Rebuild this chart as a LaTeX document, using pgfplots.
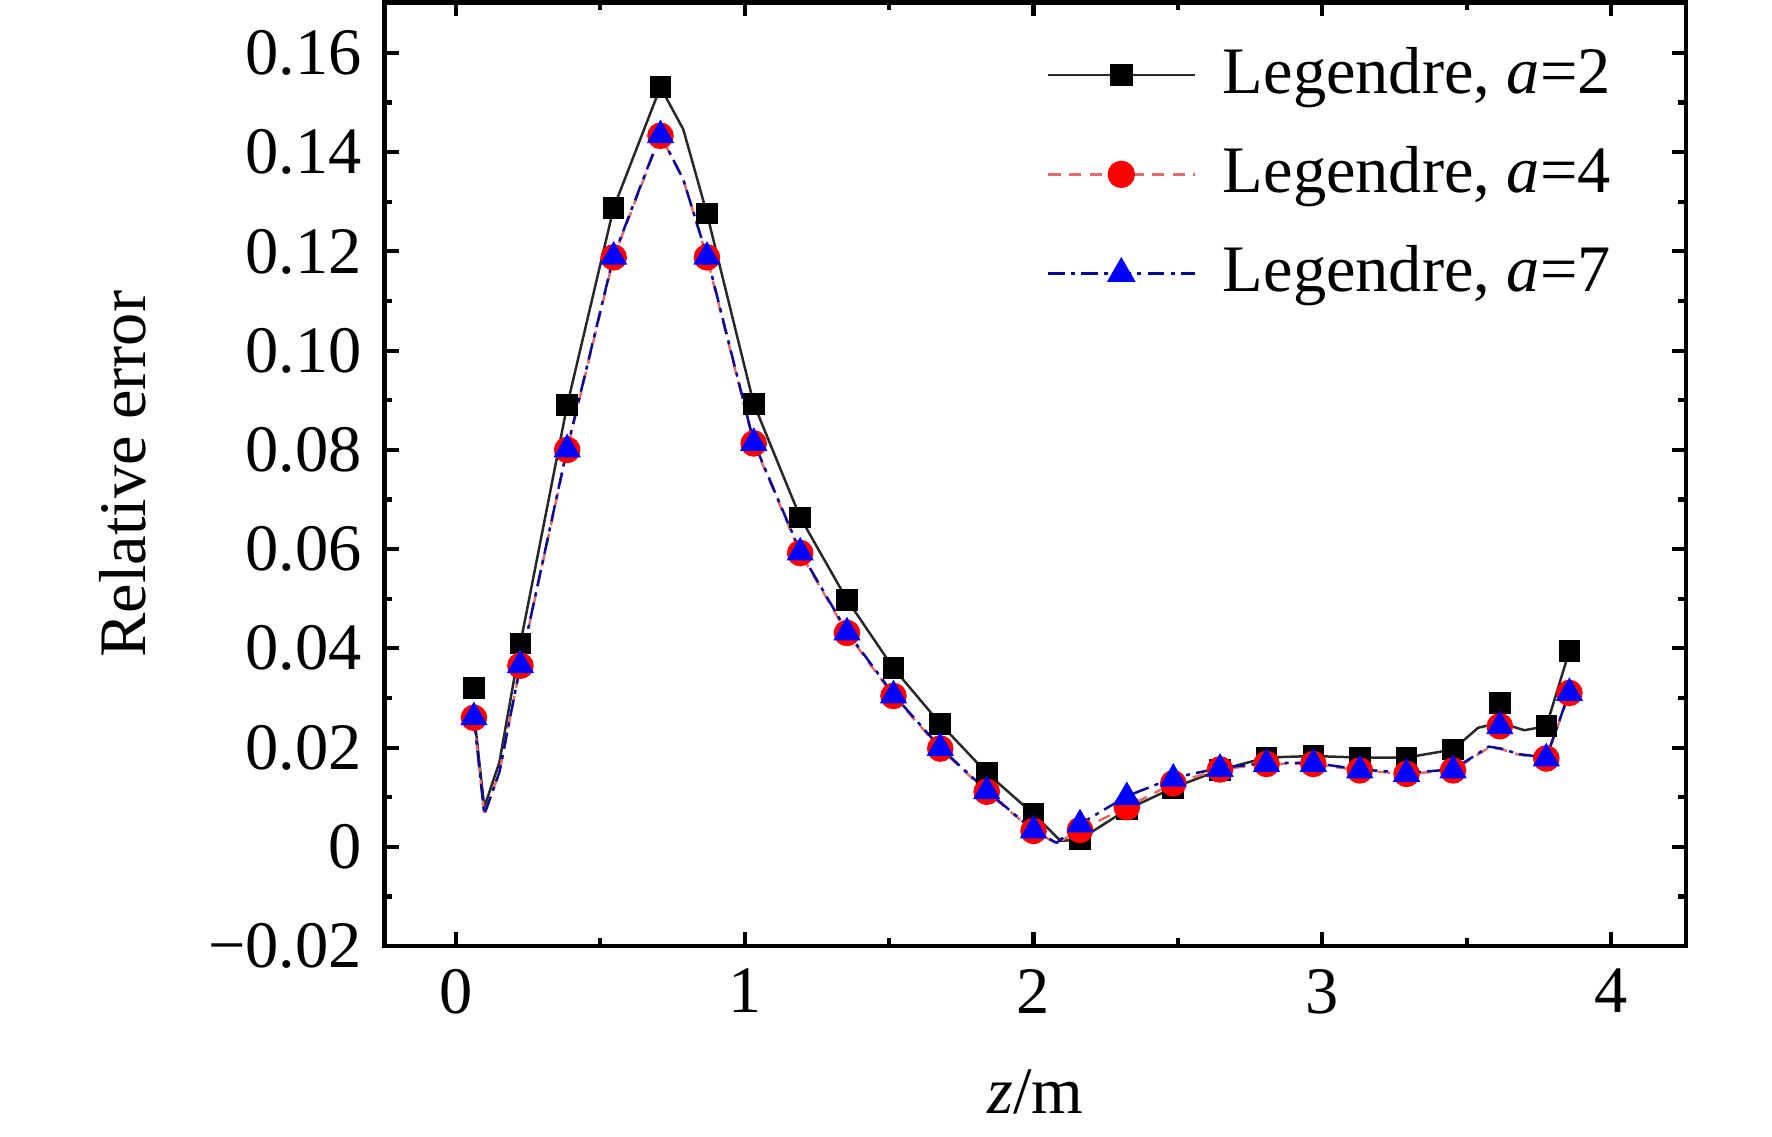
\documentclass[border=0pt]{standalone}
\usepackage{pgfplots}
\pgfplotsset{compat=1.18}
\usepackage{fontspec}
\setmainfont{Liberation Serif}
\definecolor{linered}{RGB}{225,110,110}
\definecolor{lineblue}{RGB}{10,10,150}
\definecolor{lineblack}{RGB}{40,40,40}
\begin{document}
\fontsize{16}{19}\selectfont
\begin{tikzpicture}
\begin{axis}[
  at={(0,0)}, anchor=south west, scale only axis,
  width=11.015cm, height=7.99cm,
  xmin=-0.247, xmax=4.259, ymin=-0.02, ymax=0.1702,
  xtick={0,1,2,3,4}, xticklabels={0,1,2,3,4},
  minor xtick={0.5,1.5,2.5,3.5},
  ytick={-0.02,0,0.02,0.04,0.06,0.08,0.10,0.12,0.14,0.16},
  yticklabels={{\char"2212}0.02,0,0.02,0.04,0.06,0.08,0.10,0.12,0.14,0.16},
  minor ytick={-0.01,0.01,0.03,0.05,0.07,0.09,0.11,0.13,0.15},
  tick align=inside,
  major tick length=0.12cm, minor tick length=0.065cm,
  axis line style={line width=1.1pt},
  every tick/.style={black, line width=1pt},
  /pgf/number format/assume math mode=true,
  tick label style={font=\fontsize{16}{19}\selectfont},
  xlabel={\textit{z}/m}, ylabel={Relative error},
  label style={font=\fontsize{16}{19}\selectfont},
  xlabel style={at={(axis description cs:0.5,-0.155)}, anchor=center},
  ylabel style={at={(axis description cs:-0.2015,0.5)}, anchor=center},
  legend style={draw=none, fill=none, at={(rel axis cs:0.959,0.971)}, anchor=north east,
    font=\fontsize{16}{19}\selectfont, row sep=6.4pt},
  legend cell align=left,
  legend image code/.code={\draw[mark repeat=2, mark phase=2] plot coordinates {(0cm,0cm) (0.62cm,0cm) (1.24cm,0cm)};
    \path (1.40cm,0cm);},
]
% ---- a=2 line
\addplot[forget plot, lineblack, line width=0.6pt, no marks] coordinates {
(0.062,0.027) (0.098,0.008) (0.150,0.017) (0.223,0.041) (0.385,0.089) (0.546,0.1288)
(0.708,0.1531) (0.787,0.1446) (0.869,0.1276) (1.031,0.0893) (1.192,0.0664) (1.354,0.0498)
(1.515,0.0360) (1.677,0.0248) (1.838,0.0149) (2.000,0.0066) (2.094,0.0012) (2.161,0.0015)
(2.323,0.0075) (2.484,0.0119) (2.646,0.0155) (2.807,0.0180) (2.969,0.0183) (3.130,0.0180)
(3.292,0.0180) (3.453,0.0196) (3.540,0.0240) (3.615,0.0250) (3.700,0.0235) (3.776,0.0243)
(3.856,0.0395)};
% ---- a=4 line
\addplot[forget plot, linered, line width=0.6pt, dash pattern=on 3pt off 2pt, no marks] coordinates {
(0.062,0.026) (0.098,0.0065) (0.150,0.015) (0.223,0.0365) (0.385,0.080) (0.546,0.1188)
(0.708,0.1433) (0.787,0.1345) (0.869,0.1188) (1.031,0.0813) (1.192,0.0592) (1.354,0.0431)
(1.515,0.0304) (1.677,0.0198) (1.838,0.0111) (2.000,0.0032) (2.080,0.0007) (2.161,0.0034)
(2.323,0.0080) (2.484,0.0128) (2.646,0.0156) (2.807,0.0167) (2.969,0.0167) (3.130,0.0154)
(3.292,0.0147) (3.453,0.0154) (3.577,0.0200) (3.620,0.0197) (3.678,0.0186) (3.776,0.0178)
(3.856,0.0310)};
% ---- a=7 line
\addplot[forget plot, lineblue, line width=0.6pt, dash pattern=on 4pt off 1.5pt on 1pt off 1.5pt, no marks] coordinates {
(0.062,0.026) (0.098,0.0065) (0.150,0.015) (0.223,0.0367) (0.385,0.0803) (0.546,0.1191)
(0.708,0.1436) (0.787,0.1345) (0.869,0.1191) (1.031,0.0816) (1.192,0.0595) (1.354,0.0434)
(1.515,0.0307) (1.677,0.0200) (1.838,0.0113) (2.000,0.0033) (2.080,0.0008) (2.161,0.0046)
(2.323,0.0102) (2.484,0.0139) (2.646,0.0159) (2.807,0.0169) (2.969,0.0169) (3.130,0.0156)
(3.292,0.0149) (3.453,0.0156) (3.577,0.0202) (3.620,0.0198) (3.678,0.0187) (3.776,0.0180)
(3.856,0.0312)};
% ---- a=2 marks
\addplot[forget plot, only marks, mark=square*, mark size=2.4pt, black] coordinates {
(0.062,0.032) (0.223,0.041) (0.385,0.089) (0.546,0.1288) (0.708,0.1531) (0.869,0.1276)
(1.031,0.0893) (1.192,0.0664) (1.354,0.0498) (1.515,0.0360) (1.677,0.0248) (1.838,0.0149)
(2.000,0.0066) (2.161,0.0015) (2.323,0.0075) (2.484,0.0119) (2.646,0.0155) (2.807,0.0180)
(2.969,0.0183) (3.130,0.0180) (3.292,0.0180) (3.453,0.0196) (3.615,0.0290) (3.776,0.0243)
(3.856,0.0395)};
% ---- a=4 marks
\addplot[forget plot, only marks, mark=*, mark size=3pt, red] coordinates {
(0.062,0.0260) (0.223,0.0365) (0.385,0.0800) (0.546,0.1188) (0.708,0.1433) (0.869,0.1188)
(1.031,0.0813) (1.192,0.0592) (1.354,0.0431) (1.515,0.0304) (1.677,0.0198) (1.838,0.0111)
(2.000,0.0032) (2.161,0.0034) (2.323,0.0080) (2.484,0.0128) (2.646,0.0156) (2.807,0.0167)
(2.969,0.0167) (3.130,0.0154) (3.292,0.0147) (3.453,0.0154) (3.615,0.0243) (3.776,0.0178)
(3.856,0.0310)};
% ---- a=7 marks
\addplot[forget plot, only marks, mark=triangle*, mark size=3.4pt, blue] coordinates {
(0.062,0.0261) (0.223,0.0366) (0.385,0.0801) (0.546,0.1189) (0.708,0.1434) (0.869,0.1189)
(1.031,0.0814) (1.192,0.0593) (1.354,0.0432) (1.515,0.0305) (1.677,0.0199) (1.838,0.0112)
(2.000,0.0033) (2.161,0.0045) (2.323,0.0100) (2.484,0.0137) (2.646,0.0157) (2.807,0.0167)
(2.969,0.0167) (3.130,0.0154) (3.292,0.0147) (3.453,0.0154) (3.615,0.0243) (3.776,0.0178)
(3.856,0.0310)};
\addlegendimage{lineblack, line width=0.6pt, mark=square*, mark size=2.4pt, mark options={black, solid}}
\addlegendentry{Legendre, \textit{a}=2}
\addlegendimage{linered, line width=0.6pt, dash pattern=on 3pt off 2pt, mark=*, mark size=3pt, mark options={red, solid}}
\addlegendentry{Legendre, \textit{a}=4}
\addlegendimage{lineblue, line width=0.6pt, dash pattern=on 4pt off 1.5pt on 1pt off 1.5pt, mark=triangle*, mark size=3.4pt, mark options={blue, solid}}
\addlegendentry{Legendre, \textit{a}=7}
\end{axis}
\path[use as bounding box] (-3.257cm,-1.609cm) rectangle (11.745cm,8.007cm);
\end{tikzpicture}
\end{document}
